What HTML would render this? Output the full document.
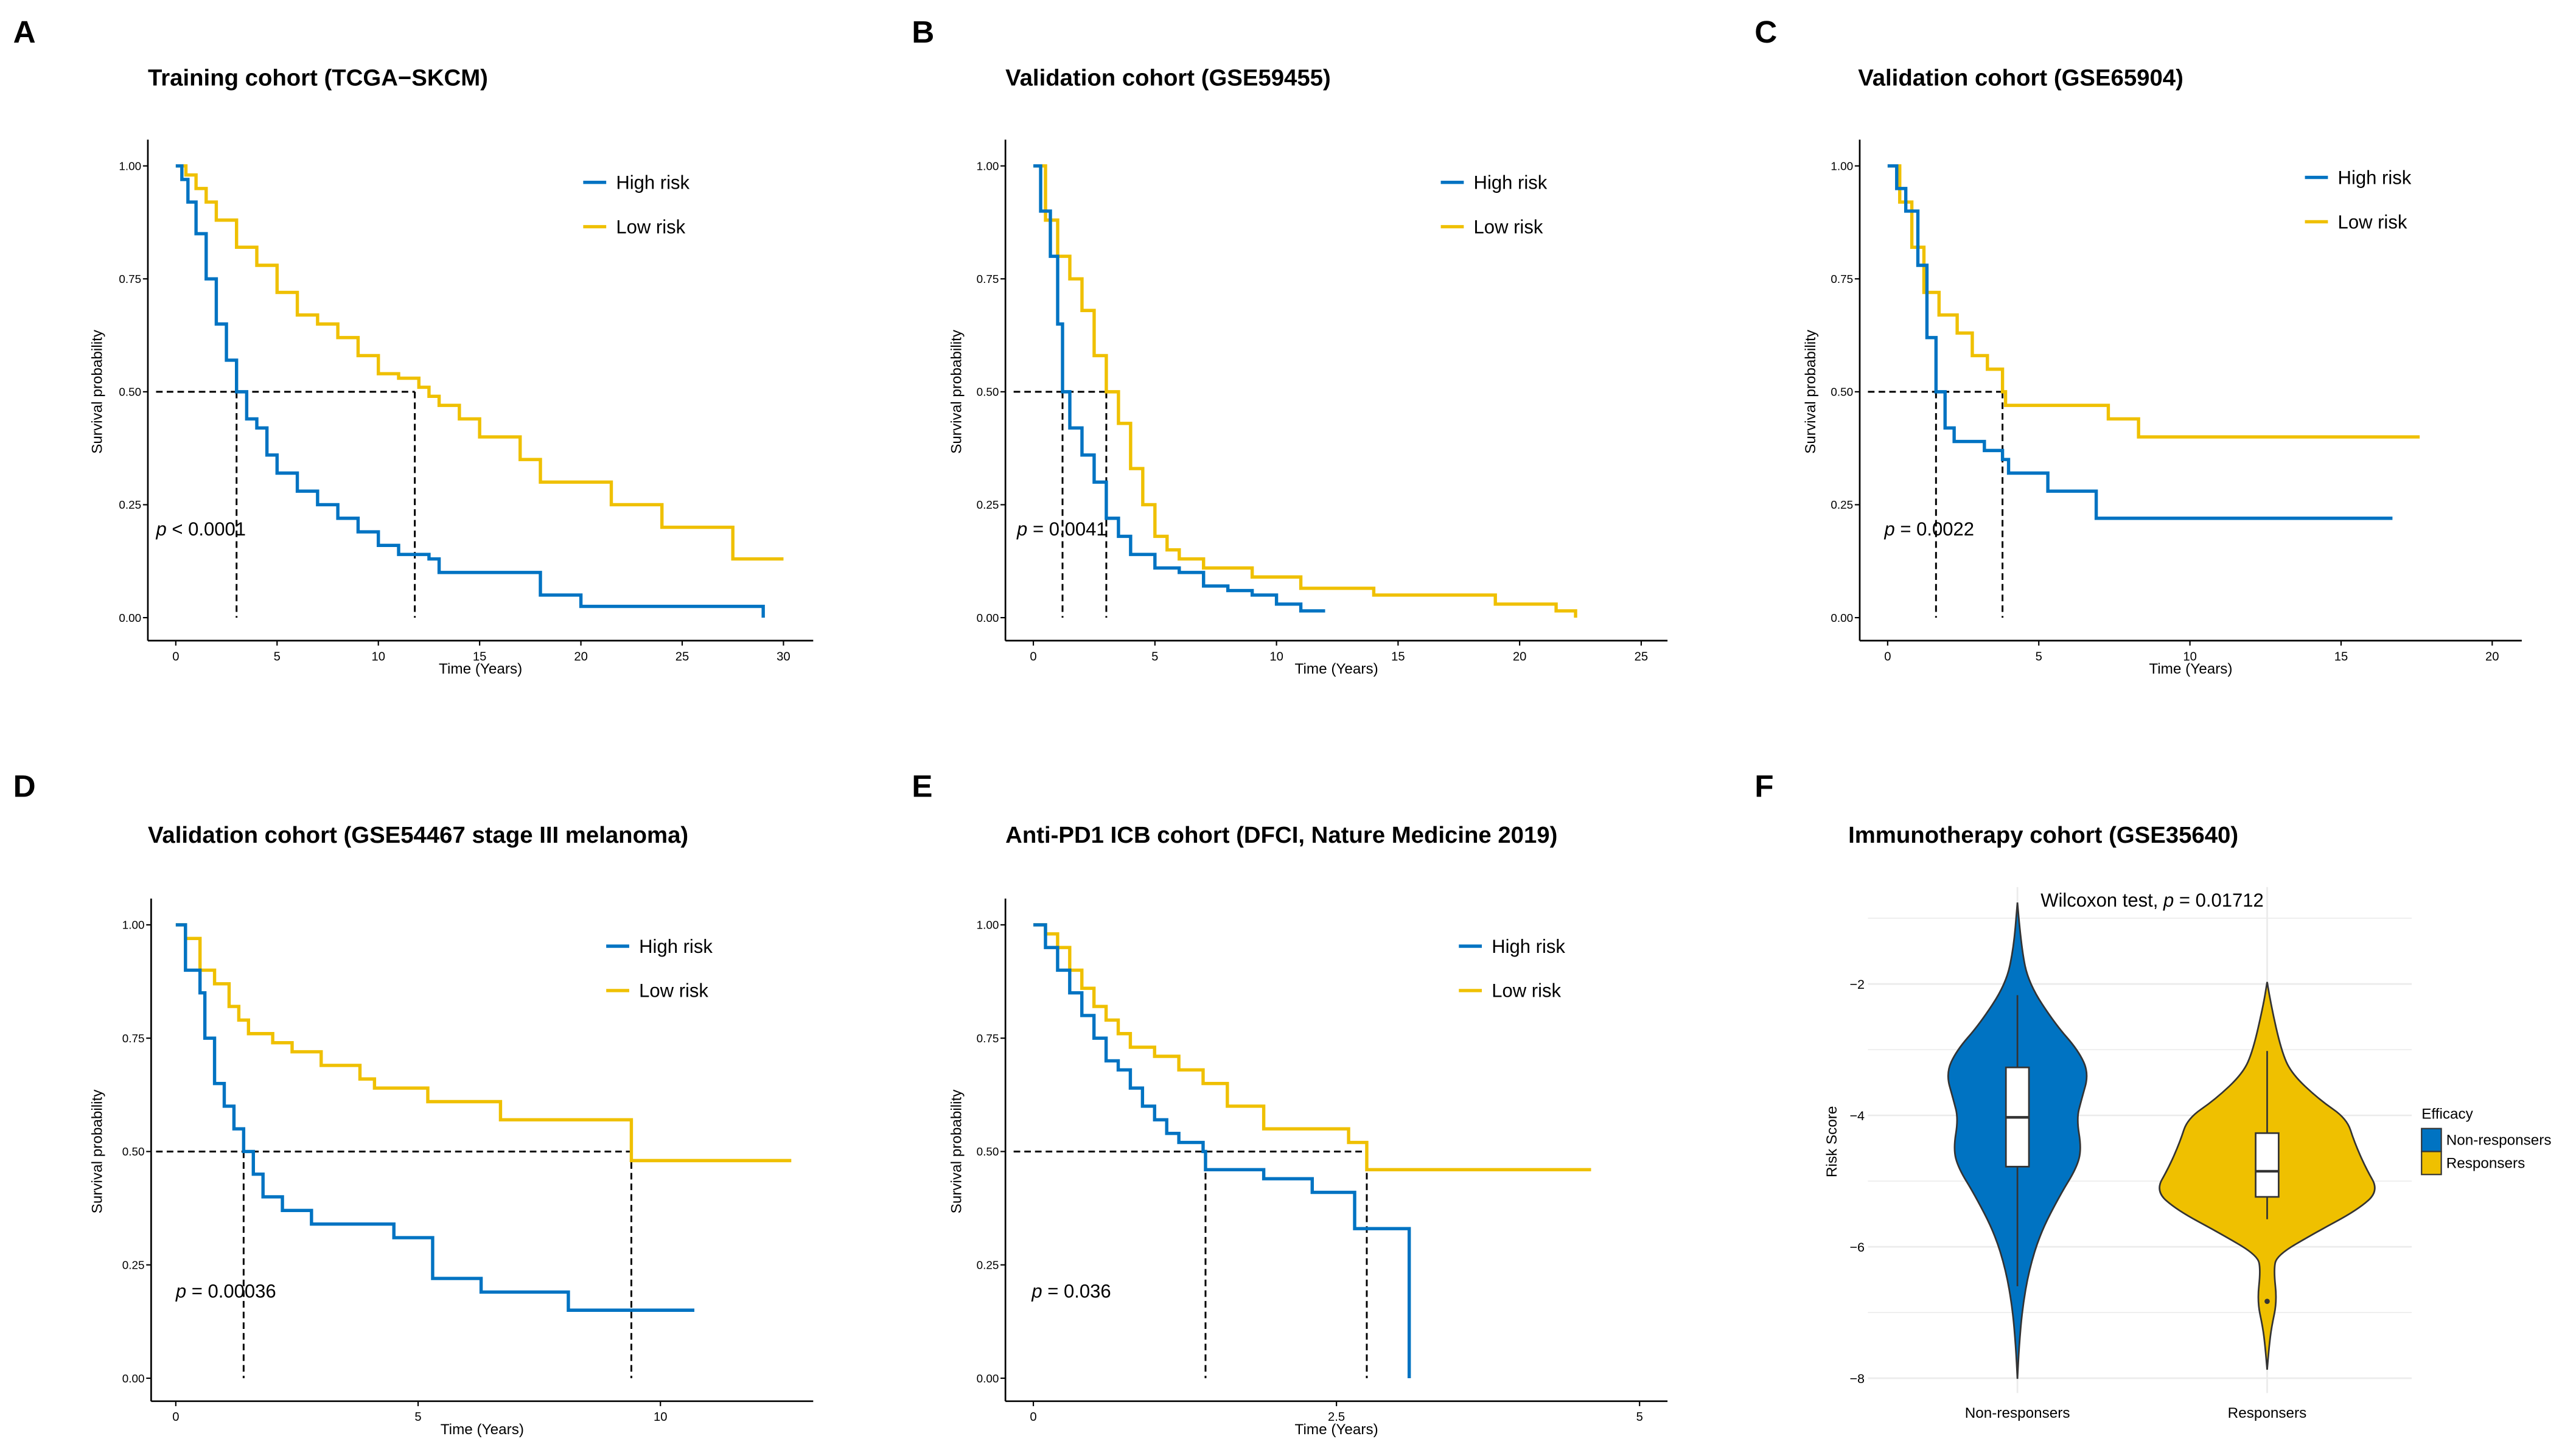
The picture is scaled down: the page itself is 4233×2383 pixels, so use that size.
<!DOCTYPE html>
<html><head><meta charset="utf-8"><style>
html,body{margin:0;padding:0;background:#fff}
svg{display:block}
text{font-family:"Liberation Sans",Arial,sans-serif;fill:#000}
</style></head><body>
<svg id="fig" width="4233" height="2383" viewBox="0 0 1568 882.7" preserveAspectRatio="none" xmlns="http://www.w3.org/2000/svg"></svg>
<script>
// ---------- Data ----------
const aHighT=[0,0.3,0.6,1,1.5,2,2.5,3,3.5,4,4.5,5,6,7,8,9,10,11,12.5,13,18,20,29];
const aHighS=[1,0.97,0.92,0.85,0.75,0.65,0.57,0.5,0.44,0.42,0.36,0.32,0.28,0.25,0.22,0.19,0.16,0.14,0.13,0.1,0.05,0.025,0];
const aLowT=[0,0.5,1,1.5,2,3,4,5,6,7,8,9,10,11,12,12.5,13,14,15,17,18,21.5,24,27.5,30];
const aLowS=[1,0.98,0.95,0.92,0.88,0.82,0.78,0.72,0.67,0.65,0.62,0.58,0.54,0.53,0.51,0.49,0.47,0.44,0.40,0.35,0.30,0.25,0.20,0.13,0.13];
const bHighT=[0,0.3,0.7,1,1.2,1.5,2,2.5,3,3.5,4,5,6,7,8,9,10,11,12];
const bHighS=[1,0.9,0.8,0.65,0.5,0.42,0.36,0.3,0.22,0.18,0.14,0.11,0.1,0.07,0.06,0.05,0.03,0.015,0.015];
const bLowT=[0,0.5,1,1.5,2,2.5,3,3.5,4,4.5,5,5.5,6,7,9,11,14,19,21.5,22.3];
const bLowS=[1,0.88,0.8,0.75,0.68,0.58,0.5,0.43,0.33,0.25,0.18,0.15,0.13,0.11,0.09,0.065,0.05,0.03,0.015,0];
const cHighT=[0,0.3,0.6,1,1.3,1.6,1.9,2.2,3.2,3.8,4,5.3,6.9,16.7];
const cHighS=[1,0.95,0.9,0.78,0.62,0.5,0.42,0.39,0.37,0.35,0.32,0.28,0.22,0.22];
const cLowT=[0,0.4,0.8,1.2,1.7,2.3,2.8,3.3,3.8,3.9,7.3,8.3,17.6];
const cLowS=[1,0.92,0.82,0.72,0.67,0.63,0.58,0.55,0.5,0.47,0.44,0.4,0.4];
const dHighT=[0,0.2,0.5,0.6,0.8,1,1.2,1.4,1.6,1.8,2.2,2.8,4.5,5.3,6.3,8.1,10.7];
const dHighS=[1,0.9,0.85,0.75,0.65,0.6,0.55,0.5,0.45,0.4,0.37,0.34,0.31,0.22,0.19,0.15,0.15];
const dLowT=[0,0.2,0.5,0.8,1.1,1.3,1.5,2,2.4,3,3.8,4.1,5.2,6.7,9.4,12.7];
const dLowS=[1,0.97,0.9,0.87,0.82,0.79,0.76,0.74,0.72,0.69,0.66,0.64,0.61,0.57,0.48,0.48];
const eHighT=[0,0.1,0.2,0.3,0.4,0.5,0.6,0.7,0.8,0.9,1,1.1,1.2,1.4,1.42,1.9,2.3,2.65,3.1];
const eHighS=[1,0.95,0.9,0.85,0.8,0.75,0.7,0.68,0.64,0.6,0.57,0.54,0.52,0.5,0.46,0.44,0.41,0.33,0];
const eLowT=[0,0.1,0.2,0.3,0.4,0.5,0.6,0.7,0.8,1,1.2,1.4,1.6,1.9,2.6,2.75,4.6];
const eLowS=[1,0.98,0.95,0.9,0.86,0.82,0.79,0.76,0.73,0.71,0.68,0.65,0.6,0.55,0.52,0.46,0.46];
const medians=[[3.0,11.8],[1.2,3.0],[1.6,3.8],[1.4,9.4],[1.42,2.75]];
const pLabels=["< 0.0001","= 0.0041","= 0.0022","= 0.00036","= 0.036"];
const xTicksA=[0,5,10,15,20,25,30];
const xTicksB=[0,5,10,15,20,25];
const xTicksC=[0,5,10,15,20];
const xTicksD=[0,5,10];
const xTicksE=[0,2.5,5];
const yTicksKM=[0,0.25,0.5,0.75,1];
// violin
const vCats=["Non-responsers","Responsers"];
const vNonY=[-0.76,-1.45,-2.0,-2.61,-3.01,-3.36,-3.76,-4.05,-4.51,-4.80,-5.21,-5.79,-6.36,-6.94,-7.52,-8.01];
const vNonW=[0,2.3,7,23,37,43.5,39,36,39,36,26,14,7,3,1,0];
const vResY=[-1.97,-2.32,-3.01,-3.36,-3.76,-4.05,-4.40,-4.80,-5.15,-5.44,-5.79,-6.13,-6.36,-6.83,-7.23,-7.52,-7.87];
const vResW=[0,2.3,8.6,14.7,31.7,48.5,53,60,68,55,29,5.8,4,6,2.6,1.2,0];
const boxQ1=[-3.27,-4.27];
const boxMed=[-4.03,-4.85];
const boxQ3=[-4.78,-5.24];
const whiskHi=[-2.17,-3.02];
const whiskLo=[-6.6,-5.58];
const outliers=[-6.83];
const vYTicks=[-2,-4,-6,-8];

// ---------- Helpers ----------
const NS="http://www.w3.org/2000/svg";
const svg=document.getElementById('fig');
function el(tag,attrs,parent,txt){const e=document.createElementNS(NS,tag);for(const k in attrs)e.setAttribute(k,attrs[k]);if(txt!==undefined)e.textContent=txt;(parent||svg).appendChild(e);return e;}
const BLUE="#0073C2",YEL="#EFC000";

const panels=[
 {letter:"A",lx:8,ly:26,title:"Training cohort (TCGA\u2212SKCM)",tx:90,ty:52,ox:107,ppu:12.33,y1:101,y0:376,ax:90,ar:495,ab:390,ticks:xTicksA,hT:aHighT,hS:aHighS,lT:aLowT,lS:aLowS,px:95,py:326,legX:355,legY:[111,138],ytx:62},
 {letter:"B",lx:555,ly:26,title:"Validation cohort (GSE59455)",tx:612,ty:52,ox:629,ppu:14.8,y1:101,y0:376,ax:612,ar:1015,ab:390,ticks:xTicksB,hT:bHighT,hS:bHighS,lT:bLowT,lS:bLowS,px:619,py:326,legX:877,legY:[111,138],ytx:585},
 {letter:"C",lx:1068,ly:26,title:"Validation cohort (GSE65904)",tx:1131,ty:52,ox:1149,ppu:18.4,y1:101,y0:376,ax:1132,ar:1535,ab:390,ticks:xTicksC,hT:cHighT,hS:cHighS,lT:cLowT,lS:cLowS,px:1147,py:326,legX:1403,legY:[108,135],ytx:1105},
 {letter:"D",lx:8,ly:485,title:"Validation cohort (GSE54467 stage III melanoma)",tx:90,ty:513,ox:107,ppu:29.5,y1:563,y0:839,ax:92,ar:495,ab:853,ticks:xTicksD,hT:dHighT,hS:dHighS,lT:dLowT,lS:dLowS,px:107,py:790,legX:369,legY:[576,603],ytx:62},
 {letter:"E",lx:555,ly:485,title:"Anti-PD1 ICB cohort (DFCI, Nature Medicine 2019)",tx:612,ty:513,ox:629,ppu:73.8,y1:563,y0:839,ax:612,ar:1015,ab:853,ticks:xTicksE,hT:eHighT,hS:eHighS,lT:eLowT,lS:eLowS,px:628,py:790,legX:888,legY:[576,603],ytx:585}
];

panels.forEach((p,i)=>{
  const g=el('g',{});
  
  
  const X=t=>p.ox+t*p.ppu, Y=s=>p.y0-(p.y0-p.y1)*s;
  const L=el('text',{x:p.lx,y:p.ly,'font-size':19,'font-weight':'bold'},g,p.letter);
  
  const T=el('text',{x:p.tx,y:p.ty,'font-size':14.2,'font-weight':'bold'},g,p.title);
  
  const ya=el('line',{x1:p.ax,y1:p.y1-16,x2:p.ax,y2:p.ab,stroke:'#000','stroke-width':1},g);
  
  const xa=el('line',{x1:p.ax,y1:p.ab,x2:p.ar,y2:p.ab,stroke:'#000','stroke-width':1},g);
  
  yTicksKM.forEach(v=>{
    el('line',{x1:p.ax-3,y1:Y(v),x2:p.ax,y2:Y(v),stroke:'#000','stroke-width':0.8},g);
    const t=el('text',{x:p.ax-4,y:Y(v)+2.5,'font-size':7,'text-anchor':'end'},g,v.toFixed(2));
    
  });
  p.ticks.forEach(v=>{
    el('line',{x1:X(v),y1:p.ab,x2:X(v),y2:p.ab+3,stroke:'#000','stroke-width':0.8},g);
    const t=el('text',{x:X(v),y:p.ab+12,'font-size':7.5,'text-anchor':'middle'},g,String(v));
    
  });
  const xt=el('text',{x:(p.ax+p.ar)/2,y:p.ab+20,'font-size':9,'text-anchor':'middle'},g,'Time (Years)');
  
  const yc=(p.y0+p.y1)/2;
  const yt=el('text',{x:p.ytx,y:yc,'font-size':9,'text-anchor':'middle',transform:`rotate(-90 ${p.ytx} ${yc})`},g,'Survival probability');
  
  const m=medians[i], mx=Math.max(m[0],m[1]);
  const hl=el('line',{x1:p.ox-12,y1:Y(0.5),x2:X(mx),y2:Y(0.5),stroke:'#000','stroke-width':1.1,'stroke-dasharray':'4,2.5'},g);
  
  m.forEach(v=>{
    const vl=el('line',{x1:X(v),y1:Y(0.5),x2:X(v),y2:p.y0,stroke:'#000','stroke-width':1.1,'stroke-dasharray':'4,2.5'},g);
    
  });
  function step(Ts,Ss){let d=`M${X(Ts[0])},${Y(Ss[0])}`;for(let k=1;k<Ts.length;k++){d+=` H${X(Ts[k])} V${Y(Ss[k])}`;}return d;}
  const lc=el('path',{d:step(p.lT,p.lS),fill:'none',stroke:YEL,'stroke-width':2},g);
  
  const hc=el('path',{d:step(p.hT,p.hS),fill:'none',stroke:BLUE,'stroke-width':2},g);
  
  const pt=el('text',{x:p.px,y:p.py,'font-size':11.5},g);
  el('tspan',{'font-style':'italic'},pt,'p');
  el('tspan',{},pt,' '+pLabels[i]);
  
  [["High risk",BLUE],["Low risk",YEL]].forEach((e,k)=>{
    const lg=el('g',{},g);
    
    el('line',{x1:p.legX,y1:p.legY[k],x2:p.legX+14,y2:p.legY[k],stroke:e[1],'stroke-width':2},lg);
    el('text',{x:p.legX+20,y:p.legY[k]+4,'font-size':11.5},lg,e[0]);
  });
});

// ---------- Panel F: violin ----------
(function(){
  const g=el('g',{});
  
  
  const Y=v=>599-(v+2)*40;
  const cx=[1228,1380];
  const L=el('text',{x:1068,y:485,'font-size':19,'font-weight':'bold'},g,'F');
  
  const T=el('text',{x:1125,y:513,'font-size':14.2,'font-weight':'bold'},g,'Immunotherapy cohort (GSE35640)');
  
  for(let v=-1;v>=-8;v--){
    const major=(v%2===0);
    const gl=el('line',{x1:1137,y1:Y(v),x2:1468,y2:Y(v),stroke:'#ebebeb','stroke-width':major?1:0.6},g);
    
  }
  cx.forEach(c=>el('line',{x1:c,y1:540,x2:c,y2:848,stroke:'#ebebeb','stroke-width':1},g));
  vYTicks.forEach(v=>{
    const t=el('text',{x:1135,y:Y(v)+3,'font-size':8,'text-anchor':'end',fill:'#333'},g,String(v).replace('-','\u2212'));
    
  });
  const yt=el('text',{x:1118,y:695,'font-size':9,'text-anchor':'middle',transform:'rotate(-90 1118 695)'},g,'Risk Score');
  
  vCats.forEach((c,k)=>{
    const t=el('text',{x:cx[k],y:863,'font-size':9,'text-anchor':'middle',fill:'#333'},g,c);
    
  });
  const wt=el('text',{x:1310,y:552,'font-size':11.5,'text-anchor':'middle'},g);
  el('tspan',{},wt,'Wilcoxon test, ');el('tspan',{'font-style':'italic'},wt,'p');el('tspan',{},wt,' = 0.01712');
  
  function violin(ys,ws,c){
    const R=ys.map((v,k)=>[c+ws[k],Y(v)]), Lp=ys.map((v,k)=>[c-ws[k],Y(v)]).reverse();
    const pts=R.concat(Lp);
    let d=`M${pts[0][0]},${pts[0][1]}`;
    for(let k=1;k<pts.length-1;k++){const mx=(pts[k][0]+pts[k+1][0])/2,my=(pts[k][1]+pts[k+1][1])/2;d+=` Q${pts[k][0]},${pts[k][1]} ${mx},${my}`;}
    d+=` L${pts[pts.length-1][0]},${pts[pts.length-1][1]} Z`;
    return d;
  }
  const cols=[BLUE,YEL];
  [[vNonY,vNonW],[vResY,vResW]].forEach((s,k)=>{
    const v=el('path',{d:violin(s[0],s[1],cx[k]),fill:cols[k],stroke:'#333','stroke-width':1},g);
    
    const w=el('line',{x1:cx[k],y1:Y(whiskHi[k]),x2:cx[k],y2:Y(whiskLo[k]),stroke:'#333','stroke-width':1},g);
    
    const b=el('rect',{x:cx[k]-7,y:Y(boxQ1[k]),width:14,height:Y(boxQ3[k])-Y(boxQ1[k]),fill:'#fff',stroke:'#333','stroke-width':1},g);
    
    const md=el('line',{x1:cx[k]-7,y1:Y(boxMed[k]),x2:cx[k]+7,y2:Y(boxMed[k]),stroke:'#333','stroke-width':1.6},g);
    
  });
  outliers.forEach(o=>{
    const c=el('circle',{cx:cx[1],cy:Y(o),r:1.6,fill:'#333'},g);
    
  });
  const lt=el('text',{x:1474,y:681,'font-size':9,fill:'#333'},g,'Efficacy');
  
  vCats.forEach((c,k)=>{
    const lg=el('g',{},g);
    
    el('rect',{x:1474,y:687+k*14,width:12,height:14,fill:cols[k],stroke:'#333','stroke-width':0.8},lg);
    el('text',{x:1489,y:697+k*14,'font-size':9,fill:'#333'},lg,c);
  });
})();
</script>
</body></html>
